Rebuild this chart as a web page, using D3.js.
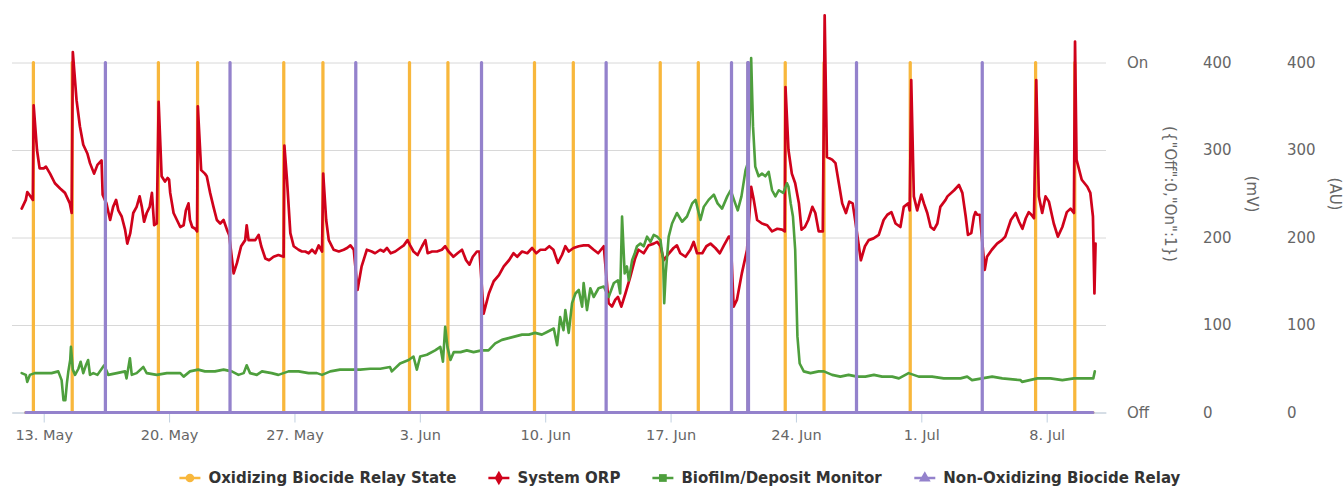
<!DOCTYPE html>
<html>
<head>
<meta charset="utf-8">
<script src="https://cdn.jsdelivr.net/npm/d3@7"></script>
<style>
  body { margin: 0; background: #fff; }
  text { font-family: "DejaVu Sans", sans-serif; }
</style>
</head>
<body>
<svg id="chart" width="1343" height="487"></svg>
<script>
const year = "2019-";
const parseTime = d3.timeParse("%Y-%m-%d %H:%M");
const t = s => parseTime(year + s);

// series names / colours
const seriesNames = ["Oxidizing Biocide Relay State", "System ORP", "Biofilm/Deposit Monitor", "Non-Oxidizing Biocide Relay"];
const seriesColors = ["#f8b73c", "#d0021b", "#4e9f3d", "#9482cc"];

// relay pulses (time the relay switched On)
const oxidizingPulses = ["05-12 10:00", "05-14 14:00", "05-19 09:30", "05-21 14:00", "05-26 09:30", "05-28 14:00",
  "06-02 10:00", "06-04 13:30", "06-09 09:30", "06-11 13:30", "06-16 10:00", "06-18 13:00", "06-21 07:45",
  "06-23 09:30", "06-25 13:30", "06-30 09:00", "07-07 09:00", "07-09 13:30"];
const nonOxidizingPulses = ["05-16 10:30", "05-23 09:30", "05-30 10:00", "06-06 10:30", "06-13 09:30",
  "06-20 09:30", "06-21 07:15", "06-21 08:15", "06-27 09:00", "07-04 09:30"];
const relaySpan = ["05-12 00:00", "07-10 14:00"];
const pulseMinutes = 20;

// System ORP (mV)
const orpReadings = [
  ["05-11 18:30",233],["05-12 00:00",243],["05-12 02:00",252],["05-12 05:30",248],["05-12 09:30",243],["05-12 10:30",351],
  ["05-12 15:00",300],["05-12 18:30",279],["05-13 00:00",279],["05-13 03:00",281],["05-13 08:30",273],["05-13 15:00",262],
  ["05-13 22:00",256],["05-14 04:30",251],["05-14 11:00",239],["05-14 13:30",228],["05-14 15:00",412],["05-14 20:00",357],
  ["05-15 00:30",327],["05-15 05:00",306],["05-15 10:30",296],["05-15 14:00",285],["05-15 19:30",273],["05-16 00:00",283],
  ["05-16 05:30",288],["05-16 07:00",249],["05-16 12:00",239],["05-16 17:00",220],["05-16 21:00",235],["05-17 01:00",243],
  ["05-17 04:00",231],["05-17 08:30",224],["05-17 13:00",209],["05-17 16:00",193],["05-17 20:00",205],["05-18 00:00",228],
  ["05-18 04:30",235],["05-18 08:30",247],["05-18 11:30",235],["05-18 14:30",218],["05-18 18:00",228],["05-18 22:00",235],
  ["05-19 01:00",251],["05-19 04:00",214],["05-19 07:30",216],["05-19 10:00",355],["05-19 14:00",270],["05-19 18:30",264],
  ["05-19 22:00",268],["05-20 00:00",266],["05-20 01:30",251],["05-20 06:00",228],["05-20 10:30",220],["05-20 15:00",212],
  ["05-20 19:30",214],["05-20 22:30",231],["05-21 02:00",239],["05-21 04:00",220],["05-21 07:00",212],["05-21 11:00",210],
  ["05-21 13:30",207],["05-21 14:30",350],["05-21 19:00",277],["05-22 00:00",273],["05-22 02:30",270],["05-22 07:00",251],
  ["05-22 11:30",235],["05-22 16:00",220],["05-22 20:30",216],["05-23 01:00",220],["05-23 05:30",209],["05-23 08:30",203],
  ["05-23 14:30",159],["05-23 19:00",171],["05-24 00:30",190],["05-24 06:00",197],["05-24 08:00",214],["05-24 10:30",197],
  ["05-24 15:00",197],["05-24 19:30",197],["05-25 00:00",203],["05-25 03:30",190],["05-25 09:00",176],["05-25 14:00",174],
  ["05-25 20:00",178],["05-26 02:30",180],["05-26 09:30",178],["05-26 10:30",305],["05-26 14:00",266],["05-26 18:30",205],
  ["05-26 23:00",190],["05-27 05:30",186],["05-27 10:00",184],["05-27 14:30",184],["05-27 19:00",182],["05-27 23:30",186],
  ["05-28 04:00",182],["05-28 08:30",191],["05-28 13:00",184],["05-28 14:30",273],["05-28 18:30",220],["05-28 22:00",197],
  ["05-29 04:30",186],["05-29 11:30",184],["05-29 18:00",186],["05-29 22:30",188],["05-30 03:00",191],["05-30 07:30",186],
  ["05-30 12:30",140],["05-30 18:00",167],["05-31 01:00",186],["05-31 07:30",184],["05-31 12:00",182],["05-31 19:00",186],
  ["05-31 23:30",184],["06-01 04:00",188],["06-01 09:00",182],["06-01 15:00",184],["06-01 21:30",188],["06-02 02:30",191],
  ["06-02 07:30",197],["06-02 11:00",191],["06-02 15:30",184],["06-02 21:00",180],["06-03 03:00",190],["06-03 07:30",197],
  ["06-03 10:30",182],["06-03 16:30",184],["06-03 23:00",184],["06-04 05:30",186],["06-04 10:00",190],["06-04 14:30",184],
  ["06-04 21:00",178],["06-05 02:30",182],["06-05 08:30",186],["06-05 14:00",174],["06-05 18:30",169],["06-05 23:00",178],
  ["06-06 04:30",184],["06-06 08:00",184],["06-06 13:30",113],["06-06 20:30",136],["06-07 03:00",150],["06-07 10:00",157],
  ["06-07 16:30",167],["06-07 23:30",174],["06-08 05:30",182],["06-08 10:30",178],["06-08 17:00",184],["06-09 00:00",182],
  ["06-09 06:30",188],["06-09 12:00",182],["06-09 17:30",186],["06-10 00:00",186],["06-10 05:30",190],["06-10 11:00",186],
  ["06-10 17:00",171],["06-10 22:30",180],["06-11 03:00",190],["06-11 07:30",184],["06-11 14:00",188],["06-11 21:00",190],
  ["06-12 03:30",191],["06-12 10:00",191],["06-12 17:00",186],["06-12 23:00",182],["06-13 06:30",190],["06-13 13:00",125],
  ["06-13 17:30",121],["06-13 22:00",129],["06-14 01:30",132],["06-14 06:00",121],["06-14 11:30",136],["06-14 18:00",155],
  ["06-15 00:30",176],["06-15 05:00",186],["06-15 12:00",182],["06-15 18:30",191],["06-16 01:30",193],["06-16 06:00",195],
  ["06-16 10:30",190],["06-16 15:00",174],["06-16 22:00",182],["06-17 04:00",188],["06-17 08:30",191],["06-17 13:00",182],
  ["06-17 20:00",178],["06-18 02:30",186],["06-18 07:00",195],["06-18 11:30",182],["06-18 18:30",182],["06-19 00:00",190],
  ["06-19 05:30",193],["06-19 12:00",188],["06-19 18:00",182],["06-19 23:30",191],["06-20 06:00",201],["06-20 08:30",201],
  ["06-20 12:30",121],["06-20 17:00",129],["06-20 23:30",159],["06-21 06:30",186],["06-21 12:00",258],["06-21 15:30",243],
  ["06-21 20:00",220],["06-22 02:30",216],["06-22 09:30",214],["06-22 16:00",207],["06-22 23:00",210],["06-23 05:30",209],
  ["06-23 09:00",207],["06-23 10:00",372],["06-23 14:00",300],["06-23 18:30",273],["06-23 23:00",262],["06-24 04:00",239],
  ["06-24 07:30",209],["06-24 12:00",212],["06-24 16:30",220],["06-24 22:00",235],["06-25 02:00",228],["06-25 06:30",207],
  ["06-25 12:00",207],["06-25 14:30",454],["06-25 17:30",292],["06-26 00:30",289],["06-26 05:00",285],["06-26 09:30",262],
  ["06-26 14:00",239],["06-26 19:00",228],["06-26 23:30",241],["06-27 04:00",239],["06-27 07:00",222],["06-27 15:00",174],
  ["06-27 20:30",190],["06-28 01:30",197],["06-28 08:00",199],["06-28 15:00",203],["06-28 21:30",220],["06-29 02:30",226],
  ["06-29 08:00",229],["06-29 13:30",216],["06-29 20:00",212],["06-30 00:30",235],["06-30 06:30",239],["06-30 08:30",231],
  ["06-30 10:30",380],["06-30 14:00",247],["06-30 18:30",231],["07-01 00:00",249],["07-01 03:30",239],["07-01 08:00",228],
  ["07-01 12:30",212],["07-01 17:00",209],["07-01 21:30",216],["07-02 01:30",235],["07-02 08:30",243],["07-02 11:00",247],
  ["07-02 20:00",254],["07-03 02:30",260],["07-03 07:00",251],["07-03 11:30",224],["07-03 14:30",203],["07-03 19:00",205],
  ["07-03 22:30",224],["07-04 00:30",229],["07-04 03:00",226],["07-04 06:30",226],["07-04 13:00",163],["07-04 16:00",178],
  ["07-04 22:30",186],["07-05 05:30",193],["07-05 12:00",197],["07-05 16:30",201],["07-06 00:00",220],["07-06 06:30",228],
  ["07-06 11:00",218],["07-06 15:30",210],["07-06 20:00",222],["07-07 00:00",229],["07-07 03:30",226],["07-07 07:00",222],
  ["07-07 10:00",380],["07-07 13:30",247],["07-07 18:00",228],["07-07 22:30",247],["07-08 03:00",241],["07-08 09:30",216],
  ["07-08 15:00",201],["07-08 21:00",212],["07-09 03:00",229],["07-09 08:00",233],["07-09 12:30",228],["07-09 14:00",424],
  ["07-09 16:00",289],["07-09 23:00",266],["07-10 06:30",258],["07-10 10:30",251],["07-10 14:00",224],["07-10 16:00",136],
  ["07-10 17:30",193]
];

// Biofilm / Deposit Monitor (AU)
const biofilmReadings = [
  ["05-11 18:30",45],["05-12 00:00",43],["05-12 02:00",35],["05-12 05:30",43],["05-12 12:00",45],["05-13 00:00",45],
  ["05-13 10:30",45],["05-13 19:30",47],["05-14 00:00",37],["05-14 02:30",14],["05-14 05:00",14],["05-14 07:00",33],
  ["05-14 09:00",47],["05-14 11:30",60],["05-14 12:30",75],["05-14 15:00",49],["05-14 18:00",43],["05-14 22:30",50],
  ["05-15 01:30",58],["05-15 05:00",45],["05-15 08:30",54],["05-15 11:30",60],["05-15 14:00",43],["05-15 18:30",45],
  ["05-16 00:00",43],["05-16 09:00",54],["05-16 14:30",43],["05-17 02:00",45],["05-17 13:00",47],["05-17 15:00",39],
  ["05-17 19:30",62],["05-17 22:00",43],["05-18 04:30",45],["05-18 13:30",52],["05-18 18:00",45],["05-19 07:30",43],
  ["05-19 21:00",45],["05-20 15:00",45],["05-20 19:30",41],["05-21 04:00",47],["05-21 15:00",49],["05-22 00:00",47],
  ["05-22 13:30",47],["05-23 01:00",49],["05-23 12:00",47],["05-23 21:00",43],["05-24 04:00",45],["05-24 08:00",54],
  ["05-24 12:30",45],["05-24 21:30",43],["05-25 04:30",47],["05-25 17:30",45],["05-26 02:30",43],["05-26 16:00",47],
  ["05-27 05:30",47],["05-27 19:00",45],["05-28 06:00",45],["05-28 13:00",43],["05-29 00:00",47],["05-29 13:00",49],
  ["05-30 03:00",49],["05-30 16:00",49],["05-31 05:30",50],["05-31 19:00",50],["06-01 08:00",52],["06-01 10:30",47],
  ["06-01 21:30",56],["06-02 09:00",60],["06-02 15:30",64],["06-02 20:00",49],["06-03 00:30",64],["06-03 09:30",66],
  ["06-03 20:30",71],["06-04 03:30",75],["06-04 07:00",58],["06-04 10:00",98],["06-04 13:00",75],["06-04 17:00",60],
  ["06-04 21:30",69],["06-05 06:30",69],["06-05 15:00",71],["06-06 00:00",69],["06-06 11:00",71],["06-06 20:00",71],
  ["06-07 05:00",79],["06-07 14:00",83],["06-07 23:00",85],["06-08 08:00",87],["06-08 17:00",89],["06-09 02:00",89],
  ["06-09 10:30",91],["06-09 19:30",89],["06-10 02:30",92],["06-10 11:30",96],["06-10 16:00",77],["06-10 20:00",109],
  ["06-11 00:30",94],["06-11 03:00",117],["06-11 07:30",91],["06-11 12:00",125],["06-11 16:30",136],["06-11 21:00",140],
  ["06-12 01:30",121],["06-12 03:30",148],["06-12 08:00",117],["06-12 12:30",142],["06-12 17:00",132],["06-12 23:30",142],
  ["06-13 06:30",144],["06-13 13:00",132],["06-13 20:00",148],["06-14 01:30",151],["06-14 04:30",136],["06-14 07:00",224],
  ["06-14 10:30",159],["06-14 13:30",167],["06-14 16:00",151],["06-14 20:30",174],["06-15 00:00",182],["06-15 03:00",190],
  ["06-15 07:30",193],["06-15 12:00",190],["06-15 16:30",201],["06-15 21:00",195],["06-16 01:30",203],["06-16 06:00",201],
  ["06-16 10:30",197],["06-16 14:00",174],["06-16 15:30",125],["06-16 17:30",159],["06-16 21:30",201],["06-17 02:00",216],
  ["06-17 08:30",228],["06-17 15:30",218],["06-17 22:00",224],["06-18 05:00",239],["06-18 09:30",243],["06-18 16:00",220],
  ["06-18 20:30",235],["06-19 03:00",243],["06-19 10:00",249],["06-19 15:00",239],["06-19 21:00",233],["06-20 04:00",247],
  ["06-20 08:30",254],["06-20 13:00",243],["06-20 18:00",231],["06-20 23:00",247],["06-21 04:30",277],["06-21 07:30",285],
  ["06-21 10:00",330],["06-21 12:00",405],["06-21 14:30",327],["06-21 17:30",281],["06-21 22:00",270],["06-22 02:30",273],
  ["06-22 07:00",270],["06-22 11:30",275],["06-22 16:00",254],["06-22 20:30",247],["06-23 01:00",254],["06-23 07:00",251],
  ["06-23 12:00",262],["06-23 14:00",258],["06-23 17:00",239],["06-23 20:00",224],["06-23 23:00",186],["06-24 00:30",136],
  ["06-24 02:00",87],["06-24 05:00",56],["06-24 10:30",47],["06-24 19:30",45],["06-25 06:30",47],["06-25 13:30",47],
  ["06-26 00:30",43],["06-26 11:30",41],["06-26 22:30",43],["06-27 10:00",41],["06-27 21:00",41],["06-28 08:30",43],
  ["06-28 19:30",41],["06-29 09:00",41],["06-29 18:00",39],["06-30 07:00",45],["06-30 20:30",41],["07-01 14:30",41],
  ["07-02 06:00",39],["07-02 15:00",39],["07-03 04:30",39],["07-03 13:30",41],["07-03 20:00",37],["07-04 09:30",39],
  ["07-04 23:00",41],["07-05 12:30",39],["07-06 13:00",37],["07-06 15:00",35],["07-07 11:30",39],["07-08 05:00",39],
  ["07-08 21:00",37],["07-09 12:30",39],["07-10 06:30",39],["07-10 14:30",39],["07-10 16:30",47]
];

// axis ticks
const dateTicks = ["05-13", "05-20", "05-27", "06-03", "06-10", "06-17", "06-24", "07-01", "07-08"];
const stateTicks = [0, 1];
const stateLabels = ["Off", "On"];
const valueTicks = [0, 100, 200, 300, 400];
const axisTitles = ['({"Off":0,"On":1})', "(mV)", "(AU)"];
const xDomain = ["05-11 05:30", "07-11 07:30"];

// layout
const plot = { left: 12, right: 1106, top: 62.5, bottom: 412.5 };
const svg = d3.select("#chart");

const x = d3.scaleTime()
  .domain(xDomain.map(t))
  .range([plot.left, plot.right]);
const yState = d3.scaleLinear().domain([0, 1]).range([plot.bottom, plot.top]);
const yMv = d3.scaleLinear().domain([0, 400]).range([plot.bottom, plot.top]);
const yAu = d3.scaleLinear().domain([0, 400]).range([plot.bottom, plot.top]);

// gridlines
svg.append("g")
  .attr("class", "grid")
  .attr("transform", `translate(${plot.left},0)`)
  .call(d3.axisRight(yMv).tickValues(valueTicks).tickSize(plot.right - plot.left).tickFormat(""))
  .call(g => g.select(".domain").remove())
  .call(g => g.selectAll("line").attr("stroke", "#d8d8d8"));

// x axis
svg.append("g")
  .attr("transform", `translate(0,${plot.bottom})`)
  .call(d3.axisBottom(x)
    .tickValues(dateTicks.map(d => t(d + " 00:00")))
    .tickFormat(d3.timeFormat("%-d. %b"))
    .tickSize(10)
    .tickSizeOuter(0)
    .tickPadding(7))
  .call(g => g.select(".domain").attr("stroke", "#c0d0e0"))
  .call(g => g.selectAll(".tick line").attr("stroke", "#c0d0e0"))
  .call(g => g.selectAll("text").attr("fill", "#666").style("font-size", "14.5px"));

// right axes
function rightAxis(scale, xPos, ticks, fmt) {
  svg.append("g")
    .attr("transform", `translate(${xPos},0)`)
    .call(d3.axisRight(scale).tickValues(ticks).tickFormat(fmt).tickSize(0).tickPadding(0))
    .call(g => g.select(".domain").remove())
    .call(g => g.selectAll("text").attr("fill", "#666").style("font-size", "15px"));
}
rightAxis(yState, 1127, stateTicks, d => stateLabels[d]);
rightAxis(yMv, 1203, valueTicks, d3.format("d"));
rightAxis(yAu, 1287, valueTicks, d3.format("d"));

svg.selectAll(".axis-title")
  .data(axisTitles)
  .join("text")
  .attr("class", "axis-title")
  .attr("transform", (d, i) => `translate(${[1170, 1252, 1335][i]},194) rotate(90)`)
  .attr("text-anchor", "middle")
  .attr("dy", "0.35em")
  .attr("fill", "#666")
  .style("font-size", "15px")
  .text(d => d);

// series
function relayPoints(pulses) {
  const pts = [[t(relaySpan[0]), 0]];
  pulses.forEach(p => {
    const on = t(p);
    const off = d3.timeMinute.offset(on, pulseMinutes);
    pts.push([on, 0], [on, 1], [off, 1], [off, 0]);
  });
  pts.push([t(relaySpan[1]), 0]);
  return pts;
}

const series = [
  { values: relayPoints(oxidizingPulses), y: yState, width: 3 },
  { values: orpReadings.map(d => [t(d[0]), d[1]]), y: yMv, width: 2.7 },
  { values: biofilmReadings.map(d => [t(d[0]), d[1]]), y: yAu, width: 2.6 },
  { values: relayPoints(nonOxidizingPulses), y: yState, width: 3 }
];

svg.append("g")
  .selectAll("path")
  .data(series)
  .join("path")
  .attr("fill", "none")
  .attr("stroke", (d, i) => seriesColors[i])
  .attr("stroke-width", d => d.width)
  .attr("stroke-linejoin", "round")
  .attr("stroke-linecap", "round")
  .attr("d", d => d3.line().x(p => x(p[0])).y(p => d.y(p[1]))(d.values));

// legend
const symbols = [d3.symbolCircle, d3.symbolDiamond, d3.symbolSquare, d3.symbolTriangle];
const legend = svg.append("g").attr("class", "legend");
const items = legend.selectAll("g")
  .data(seriesNames)
  .join("g");
items.append("line")
  .attr("x1", 0).attr("x2", 21).attr("y1", 0).attr("y2", 0)
  .attr("stroke", (d, i) => seriesColors[i])
  .attr("stroke-width", 2.5);
items.append("path")
  .attr("transform", "translate(10.5,0)")
  .attr("d", (d, i) => d3.symbol(symbols[i], 60)())
  .attr("fill", (d, i) => seriesColors[i]);
items.append("text")
  .attr("x", 29)
  .attr("dy", "0.35em")
  .attr("fill", "#333")
  .style("font-size", "15px")
  .style("font-weight", "bold")
  .text(d => d);

const itemGap = 32;
let cursor = 0;
const offsets = [];
items.each(function () {
  offsets.push(cursor);
  cursor += this.getBBox().width + itemGap;
});
const total = cursor - itemGap;
const startX = 680 - total / 2;
items.attr("transform", (d, i) => `translate(${startX + offsets[i]},478)`);
</script>
</body>
</html>
